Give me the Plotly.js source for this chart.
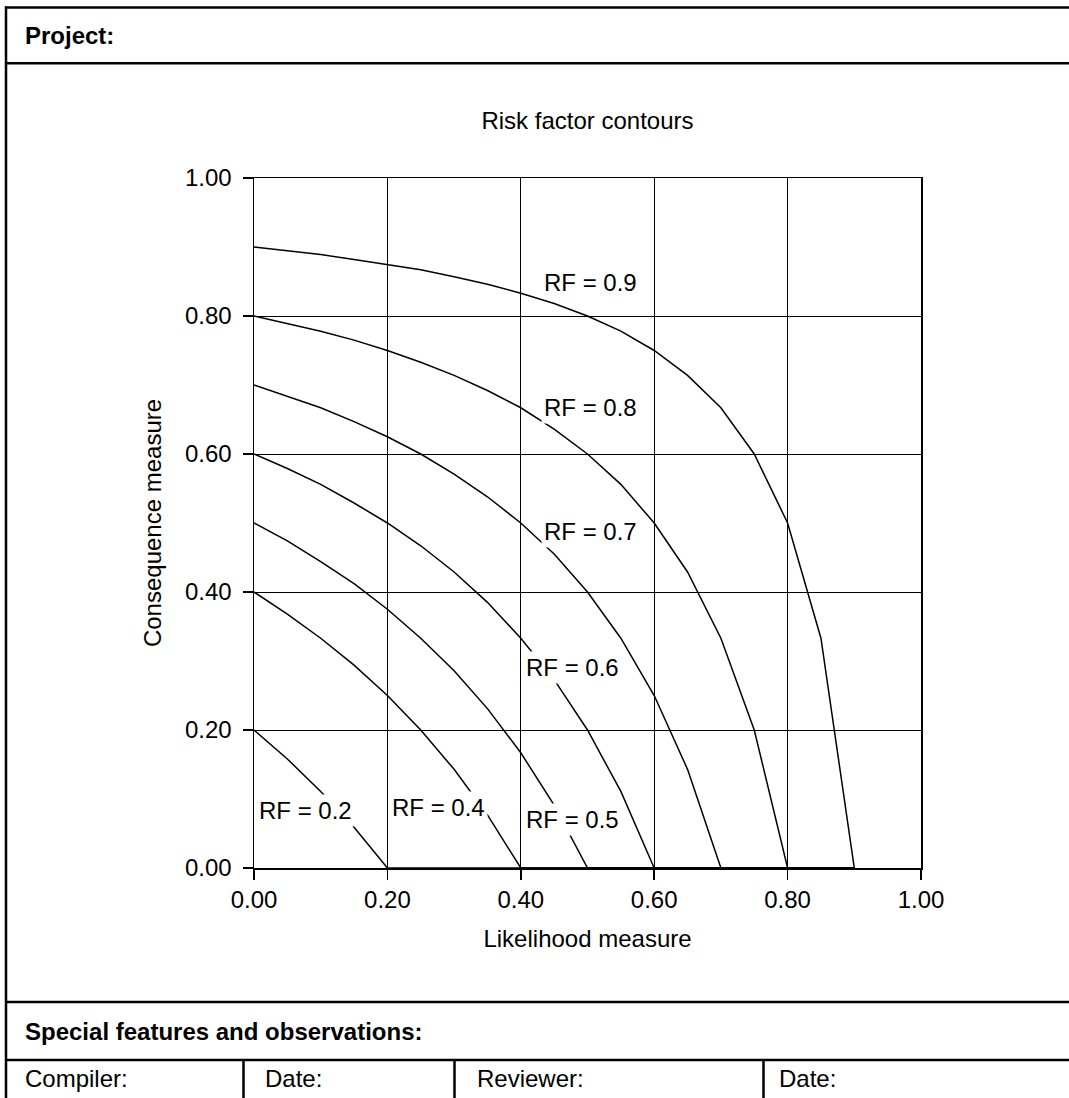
<!DOCTYPE html>
<html>
<head>
<meta charset="utf-8">
<script src="https://cdn.plot.ly/plotly-3.0.1.min.js"></script>
<style>
  html, body { margin: 0; padding: 0; background: #ffffff; }
  #chart { width: 1069px; height: 1098px; }
</style>
</head>
<body>
<div id="chart"></div>
<script>
// ---- Data ----
const likelihood = [0, 0.05, 0.10, 0.15, 0.20, 0.25, 0.30, 0.35, 0.40, 0.45, 0.50, 0.55, 0.60, 0.65, 0.70, 0.75, 0.80, 0.85, 0.90];
const rf02 = [0.200, 0.158, 0.111, 0.059, 0, 0, 0, 0, 0, 0, 0, 0, 0, 0, 0, 0, 0, 0, 0];
const rf04 = [0.400, 0.368, 0.333, 0.294, 0.250, 0.200, 0.143, 0.077, 0, 0, 0, 0, 0, 0, 0, 0, 0, 0, 0];
const rf05 = [0.500, 0.474, 0.444, 0.412, 0.375, 0.333, 0.286, 0.231, 0.167, 0.091, 0, 0, 0, 0, 0, 0, 0, 0, 0];
const rf06 = [0.600, 0.579, 0.556, 0.529, 0.500, 0.467, 0.429, 0.385, 0.333, 0.273, 0.200, 0.111, 0, 0, 0, 0, 0, 0, 0];
const rf07 = [0.700, 0.684, 0.667, 0.647, 0.625, 0.600, 0.571, 0.538, 0.500, 0.455, 0.400, 0.333, 0.250, 0.143, 0, 0, 0, 0, 0];
const rf08 = [0.800, 0.789, 0.778, 0.765, 0.750, 0.733, 0.714, 0.692, 0.667, 0.636, 0.600, 0.556, 0.500, 0.429, 0.333, 0.200, 0, 0, 0];
const rf09 = [0.900, 0.895, 0.889, 0.882, 0.875, 0.867, 0.857, 0.846, 0.833, 0.818, 0.800, 0.778, 0.750, 0.714, 0.667, 0.600, 0.500, 0.333, 0];

const seriesValues = [rf02, rf04, rf05, rf06, rf07, rf08, rf09];
const seriesNames = ['RF = 0.2', 'RF = 0.4', 'RF = 0.5', 'RF = 0.6', 'RF = 0.7', 'RF = 0.8', 'RF = 0.9'];
// label anchor points (likelihood, consequence) for each contour label
const labelX = [0.077, 0.277, 0.477, 0.478, 0.505, 0.505, 0.505];
const labelY = [0.084, 0.087, 0.071, 0.291, 0.488, 0.667, 0.849];

const tickValues = [0, 0.2, 0.4, 0.6, 0.8, 1.0];
const tickLabels = ['0.00', '0.20', '0.40', '0.60', '0.80', '1.00'];

const formTexts = ['Project:', 'Special features and observations:', 'Compiler:', 'Date:', 'Reviewer:', 'Date:'];

// ---- Layout geometry ----
const W = 1069, H = 1098;
const L0 = 254, R0 = 921, T0 = 178, B0 = 868;
const px = v => (v - L0) / (R0 - L0);
const py = v => (B0 - v) / (B0 - T0);
const FONT = 'Liberation Sans, Arial, Helvetica, sans-serif';

const traces = seriesValues.map((vals, i) => ({
  type: 'scatter',
  mode: 'lines',
  name: seriesNames[i],
  x: likelihood,
  y: vals,
  line: { color: '#000000', width: 1.5 },
  hoverinfo: 'skip'
}));

const annotations = seriesNames.map((t, i) => ({
  text: t,
  x: labelX[i], y: labelY[i], xref: 'x', yref: 'y',
  xanchor: 'center', yanchor: 'middle',
  showarrow: false,
  bgcolor: '#ffffff',
  borderpad: 2,
  font: { family: FONT, size: 24, color: '#000000' }
}));

// form text
const formPos = [
  [23, 35, true], [23, 1031, true],
  [23, 1078, false], [263, 1078, false], [475, 1078, false], [777, 1078, false]
];
formTexts.forEach((t, i) => {
  annotations.push({
    text: formPos[i][2] ? '<b>' + t + '</b>' : t,
    x: px(formPos[i][0]), y: py(formPos[i][1]), xref: 'paper', yref: 'paper',
    xanchor: 'left', yanchor: 'middle', showarrow: false,
    font: { family: FONT, size: 24, color: '#000000' }
  });
});

const lineStyle = { color: '#000000', width: 2.5 };
const hLine = (y) => ({ type: 'line', xref: 'paper', yref: 'paper', x0: px(5), x1: px(1075), y0: py(y), y1: py(y), line: lineStyle });
const vLine = (x, y0, y1) => ({ type: 'line', xref: 'paper', yref: 'paper', x0: px(x), x1: px(x), y0: py(y0), y1: py(y1), line: lineStyle });
const shapes = [
  hLine(7.5), hLine(63.3), hLine(1002), hLine(1060),
  vLine(6, 6.5, 1105),
  vLine(243.5, 1060, 1105), vLine(454.5, 1060, 1105), vLine(763.5, 1060, 1105)
];

const axisCommon = {
  range: [0, 1],
  tickvals: tickValues,
  ticktext: tickLabels,
  showgrid: true, gridcolor: '#000000', gridwidth: 1,
  showline: true, linecolor: '#000000', linewidth: 1.5, mirror: true,
  zeroline: false,
  ticks: 'outside', ticklen: 10, tickwidth: 1.5, tickcolor: '#000000',
  tickfont: { family: FONT, size: 24, color: '#000000' },
  fixedrange: true
};

const layout = {
  width: W, height: H,
  margin: { l: L0, r: W - R0, t: T0, b: H - B0, pad: 0 },
  paper_bgcolor: '#ffffff', plot_bgcolor: '#ffffff',
  showlegend: false,
  font: { family: FONT, size: 24, color: '#000000' },
  title: {
    text: 'Risk factor contours',
    font: { family: FONT, size: 24, color: '#000000' },
    x: 0.5, xref: 'paper', xanchor: 'center',
    y: 1 - 121 / H, yref: 'container', yanchor: 'middle'
  },
  xaxis: Object.assign({}, axisCommon, {
    title: { text: 'Likelihood measure', font: { family: FONT, size: 24, color: '#000000' }, standoff: 18 }
  }),
  yaxis: Object.assign({}, axisCommon, {
    ticklabelstandoff: 6,
    title: { text: 'Consequence measure', font: { family: FONT, size: 24, color: '#000000' }, standoff: 16 }
  }),
  annotations: annotations,
  shapes: shapes
};

Plotly.newPlot('chart', traces, layout, { displayModeBar: false, staticPlot: true });
</script>
</body>
</html>
